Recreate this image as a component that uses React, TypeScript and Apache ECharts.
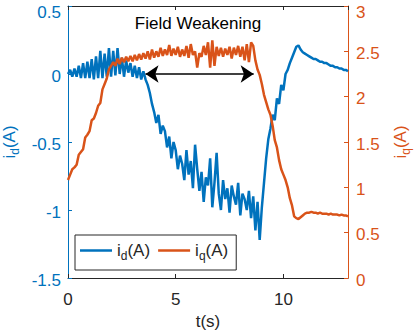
import React, { useEffect, useRef } from "react";
import * as echarts from "echarts";

const BLUE = "#0072BD";
const ORANGE = "#D95319";
const DARK = "#262626";
const FONT = "'Liberation Sans', Arial, Helvetica, sans-serif";

// time samples (s)
const time = [
  0.0, 0.1, 0.2, 0.3, 0.4, 0.5, 0.6, 0.7, 0.8, 0.9,
  1.0, 1.1, 1.2, 1.3, 1.4, 1.5, 1.6, 1.7, 1.8, 1.9,
  2.0, 2.1, 2.2, 2.3, 2.4, 2.5, 2.6, 2.7, 2.8, 2.9,
  3.0, 3.1, 3.2, 3.3, 3.4, 3.5, 3.6, 3.7, 3.8, 3.9,
  4.0, 4.1, 4.2, 4.3, 4.4, 4.5, 4.6, 4.7, 4.8, 4.9,
  5.0, 5.1, 5.2, 5.3, 5.4, 5.5, 5.6, 5.7, 5.8, 5.9,
  6.0, 6.1, 6.2, 6.3, 6.4, 6.5, 6.6, 6.7, 6.8, 6.9,
  7.0, 7.1, 7.2, 7.3, 7.4, 7.5, 7.6, 7.7, 7.8, 7.9,
  8.0, 8.1, 8.2, 8.3, 8.4, 8.5, 8.6, 8.7, 8.8, 8.9,
  9.0, 9.1, 9.2, 9.3, 9.4, 9.5, 9.6, 9.7, 9.8, 9.9,
  10.0, 10.1, 10.2, 10.3, 10.4, 10.5, 10.6, 10.7, 10.8, 10.9,
  11.0, 11.1, 11.2, 11.3, 11.4, 11.5, 11.6, 11.7, 11.8, 11.9,
  12.0, 12.1, 12.2, 12.3, 12.4, 12.5, 12.6, 12.7, 12.8, 12.9,
  13.0,
];

// d-axis current i_d (A), left axis
const idValues = [
  0.0, 0.03, -0.02, 0.04, -0.02, 0.06, -0.03, 0.08, -0.03, 0.09,
  -0.03, 0.11, -0.04, 0.13, -0.03, 0.17, -0.03, 0.15, -0.02, 0.19,
  -0.02, 0.17, -0.01, 0.19, 0.0, 0.12, -0.02, 0.1, 0.01, 0.08,
  -0.02, 0.06, -0.03, 0.05, -0.04, 0.02, -0.04, -0.08, -0.14, -0.22,
  -0.28, -0.36, -0.3, -0.44, -0.38, -0.42, -0.54, -0.46, -0.62, -0.5,
  -0.56, -0.7, -0.6, -0.66, -0.78, -0.56, -0.74, -0.64, -0.84, -0.52,
  -0.7, -0.86, -0.72, -0.94, -0.76, -0.82, -0.62, -0.98, -0.8, -0.58,
  -0.88, -1.0, -0.78, -0.92, -0.84, -1.02, -0.82, -0.9, -0.96, -0.8,
  -1.04, -0.88, -0.92, -1.0, -0.86, -1.06, -0.9, -1.15, -0.94, -1.22,
  -0.98, -0.8, -0.62, -0.48, -0.4, -0.3, -0.34, -0.18, -0.22, -0.08,
  -0.12, 0.0, 0.03, 0.08, 0.12, 0.16, 0.2, 0.21, 0.18, 0.16,
  0.15, 0.14, 0.13, 0.12, 0.11, 0.11, 0.1, 0.09, 0.09, 0.08,
  0.08, 0.07, 0.06, 0.06, 0.05, 0.05, 0.04, 0.04, 0.03, 0.03,
  0.02,
];

// q-axis current i_q (A), right axis
const iqValues = [
  1.08, 1.14, 1.2, 1.22, 1.25, 1.36, 1.39, 1.42, 1.55, 1.58,
  1.62, 1.74, 1.76, 1.82, 1.9, 1.93, 2.08, 2.14, 2.2, 2.3,
  2.34, 2.38, 2.34, 2.42, 2.36, 2.43, 2.38, 2.44, 2.39, 2.45,
  2.39, 2.46, 2.4, 2.47, 2.41, 2.48, 2.42, 2.5, 2.41, 2.52,
  2.43, 2.5, 2.44, 2.54, 2.45, 2.52, 2.46, 2.57, 2.45, 2.53,
  2.46, 2.55, 2.44, 2.52, 2.45, 2.56, 2.43, 2.58, 2.46, 2.5,
  2.32, 2.48, 2.44, 2.56, 2.46, 2.6, 2.32, 2.62, 2.34, 2.55,
  2.45, 2.54, 2.44, 2.53, 2.46, 2.55, 2.42, 2.54, 2.46, 2.56,
  2.44, 2.55, 2.4, 2.58, 2.38, 2.6, 2.56, 2.4, 2.3, 2.24,
  2.14, 2.02, 1.94, 1.86, 1.8, 1.68, 1.52, 1.44, 1.3, 1.2,
  1.14, 1.08, 1.0, 0.88, 0.8, 0.68, 0.66, 0.65, 0.67, 0.69,
  0.71, 0.72, 0.72, 0.73, 0.72, 0.72, 0.71, 0.72, 0.71, 0.71,
  0.71, 0.7, 0.71, 0.7, 0.7, 0.7, 0.69, 0.7, 0.69, 0.69,
  0.68,
];

const seriesNames = ["id", "iq"];
const legendLabels: Record<string, string> = { id: "i{s|d}(A)", iq: "i{s|q}(A)" };
const annotationText = "Field Weakening";
const arrowStart = [3.6, 0];
const arrowEnd = [8.62, 0];
const idAxisRange = { min: -1.5, max: 0.5, interval: 0.5 };
const iqAxisRange = { min: 0, max: 3, interval: 0.5 };

export default function App() {
  const ref = useRef<HTMLDivElement>(null);

  useEffect(() => {
    if (!ref.current) return;
    const chart = echarts.init(ref.current, null, { renderer: "svg" });
    const sub = (color: string) => ({
      fontSize: 12,
      color,
      fontFamily: FONT,
      padding: [11, 0, 0, 0],
    });
    const topLabel = (color: string) => ({
      fontSize: 17,
      color,
      fontFamily: FONT,
      lineHeight: 8,
      padding: [8, 0, 0, 0],
    });
    const option: any = {
      animation: false,
      textStyle: { fontFamily: FONT },
      grid: {
        left: 68,
        right: 70,
        top: 6,
        bottom: 56,
        containLabel: false,
        outerBoundsMode: "none",
      },
      legend: {
        left: 75,
        top: 235,
        data: seriesNames,
        formatter: (n: string) => legendLabels[n],
        icon: "rect",
        itemWidth: 32,
        itemHeight: 2.5,
        itemGap: 8,
        padding: [7, 8, 8, 5],
        borderColor: DARK,
        borderWidth: 1,
        borderRadius: 0,
        backgroundColor: "#fff",
        textStyle: {
          fontSize: 17,
          color: DARK,
          fontFamily: FONT,
          rich: { s: sub(DARK) },
        },
      },
      xAxis: [
        {
          type: "value",
          position: "bottom",
          min: 0,
          max: 13,
          interval: 5,
          name: "t(s)",
          nameLocation: "middle",
          nameGap: 35,
          nameTextStyle: { fontSize: 17, color: DARK, fontFamily: FONT },
          axisLine: { show: true, onZero: false, lineStyle: { color: DARK, width: 1 } },
          axisTick: { show: true, inside: true, length: 4, lineStyle: { color: DARK } },
          axisLabel: { fontSize: 17, color: DARK, margin: 13, showMaxLabel: false, fontFamily: FONT },
          splitLine: { show: false },
        },
        {
          type: "value",
          position: "top",
          min: 0,
          max: 13,
          interval: 5,
          axisLine: { show: true, onZero: false, lineStyle: { color: DARK, width: 1 } },
          axisTick: { show: true, inside: true, length: 4, lineStyle: { color: DARK } },
          axisLabel: { show: false },
          splitLine: { show: false },
        },
      ],
      yAxis: [
        {
          type: "value",
          position: "left",
          ...idAxisRange,
          name: "i{s|d}(A)",
          nameLocation: "middle",
          nameRotate: 90,
          nameGap: 40,
          nameTextStyle: { fontSize: 17, color: BLUE, fontFamily: FONT, rich: { s: sub(BLUE) } },
          axisLine: { show: true, onZero: false, lineStyle: { color: BLUE, width: 1 } },
          axisTick: { show: true, inside: true, length: 4, lineStyle: { color: BLUE } },
          axisLabel: {
            fontSize: 17,
            color: BLUE,
            margin: 7,
            fontFamily: FONT,
            lineHeight: 8,
            padding: [4, 0, 0, 0],
            formatter: (v: number) => (v === idAxisRange.max ? `{t|${v}}` : String(v)),
            rich: { t: topLabel(BLUE) },
          },
          splitLine: { show: false },
        },
        {
          type: "value",
          position: "right",
          ...iqAxisRange,
          name: "i{s|q}(A)",
          nameLocation: "middle",
          nameRotate: 90,
          nameGap: 41,
          nameTextStyle: { fontSize: 17, color: ORANGE, fontFamily: FONT, rich: { s: sub(ORANGE) } },
          axisLine: { show: true, onZero: false, lineStyle: { color: ORANGE, width: 1 } },
          axisTick: { show: true, inside: true, length: 4, lineStyle: { color: ORANGE } },
          axisLabel: {
            fontSize: 17,
            color: ORANGE,
            margin: 8,
            fontFamily: FONT,
            lineHeight: 8,
            padding: [4, 0, 0, 0],
            formatter: (v: number) => (v === iqAxisRange.max ? `{t|${v}}` : String(v)),
            rich: { t: topLabel(ORANGE) },
          },
          splitLine: { show: false },
        },
      ],
      graphic: [
        {
          type: "text",
          x: 198,
          y: 23,
          style: {
            text: annotationText,
            fontSize: 17,
            fontFamily: FONT,
            fill: "#000",
            align: "center",
            verticalAlign: "middle",
          },
        },
      ],
      series: [
        {
          name: "id",
          type: "line",
          xAxisIndex: 0,
          yAxisIndex: 0,
          data: time.map((t, i) => [t, idValues[i]]),
          symbol: "none",
          lineStyle: { color: BLUE, width: 2.5 },
          itemStyle: { color: BLUE },
          markLine: {
            silent: true,
            symbol: ["arrow", "arrow"],
            symbolSize: 13,
            label: { show: false },
            lineStyle: { color: "#000", width: 1.5, type: "solid" },
            itemStyle: { color: "#000" },
            data: [[{ coord: arrowStart }, { coord: arrowEnd }]],
          },
        },
        {
          name: "iq",
          type: "line",
          xAxisIndex: 0,
          yAxisIndex: 1,
          data: time.map((t, i) => [t, iqValues[i]]),
          symbol: "none",
          lineStyle: { color: ORANGE, width: 2.5 },
          itemStyle: { color: ORANGE },
        },
      ],
    };
    chart.setOption(option);
    return () => chart.dispose();
  }, []);

  return (
    <div
      ref={ref}
      style={{ position: "absolute", left: 0, top: 0, width: 418, height: 334, background: "#fff" }}
    />
  );
}
